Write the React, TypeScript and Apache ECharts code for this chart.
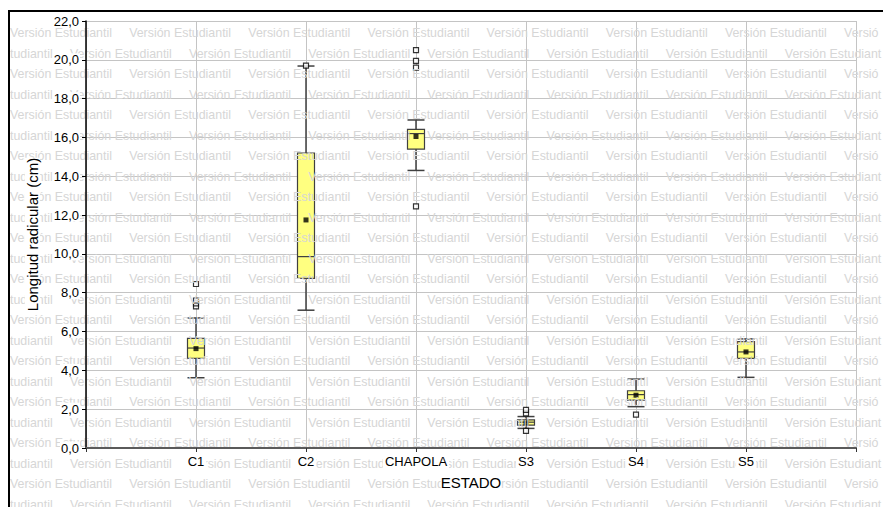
import React, { useEffect, useRef } from 'react';
import * as echarts from 'echarts';

// ---- data ----
const categories = ['C1', 'C2', 'CHAPOLA', 'S3', 'S4', 'S5'];
const mins = [3.62, 7.1, 14.3, 1.01, 2.13, 3.64];
const q1s = [4.62, 8.74, 15.4, 1.18, 2.47, 4.62];
const medians = [5.15, 9.86, 16.2, 1.33, 2.75, 4.95];
const q3s = [5.65, 15.2, 16.42, 1.45, 2.95, 5.48];
const maxs = [6.7, 19.68, 16.9, 1.62, 3.55, 5.62];
const means = [5.12, 11.75, 16.05, 1.3, 2.72, 4.95];
const outliers = [
  [7.3, 7.45, 7.6, 8.45],
  [19.7],
  [12.45, 19.6, 19.95, 20.5],
  [0.88, 1.78, 1.96],
  [1.72],
  [],
];
const yMin = 0;
const yMax = 22;
const yStep = 2;
const xTitle = 'ESTADO';
const yTitle = 'Longitud radicular (cm)';
const watermark = 'Versión Estudiantil';

const FONT = '"Liberation Sans", Arial, sans-serif';
const WM_FONT = '12.4px ' + FONT;

function fitText(s: string, maxW: number): string {
  const c = document.createElement('canvas').getContext('2d');
  if (!c) return s;
  c.font = WM_FONT;
  let t = s;
  while (t.length > 0 && c.measureText(t).width > maxW) t = t.slice(0, -1);
  return t.replace(/[\u00a0\s]+$/, '');
}

export default function App() {
  const ref = useRef<HTMLDivElement>(null);

  useEffect(() => {
    const chart = echarts.init(ref.current!, null, { renderer: 'svg' });
    const axisCats = ['', ...categories, ''];
    const boxData = categories.map((_, i) => [i + 1, mins[i], q1s[i], medians[i], q3s[i], maxs[i]]);
    const meanData = categories.map((_, i) => [i + 1, means[i]]);
    const outlierData: number[][] = [];
    outliers.forEach((arr, i) => arr.forEach((v) => outlierData.push([i + 1, v])));

    const NB = '\u00a0';
    const unit = watermark + NB.repeat(5);
    const wmElements = Array.from({ length: 24 }, (_, i) => ({
      type: 'text',
      x: 10,
      y: 33 + 20.5 * i,
      silent: true,
      z: 5,
      style: {
        text: fitText(
          i % 2 === 0 ? unit.repeat(8) : 'tudiantil' + NB.repeat(5) + unit.repeat(8),
          883 - 10 - 1
        ),
        fill: '#d6d6d6',
        font: WM_FONT,
        verticalAlign: 'middle',
      },
    }));

    const labelAxisY = {
      type: 'value',
      min: yMin,
      max: yMax,
      interval: yStep,
      position: 'left',
      z: 10,
      axisLine: { show: true, lineStyle: { color: '#000', width: 1.5 } },
      axisTick: { show: true, length: 4, lineStyle: { color: '#000' } },
      axisLabel: {
        show: true,
        margin: 6,
        color: '#000',
        fontSize: 13,
        fontFamily: FONT,
        backgroundColor: '#fff',
        padding: [0, 1],
        formatter: (v: number) => v.toFixed(1).replace('.', ','),
      },
      splitLine: { show: false },
      name: yTitle,
      nameLocation: 'middle',
      nameGap: 46,
      nameTextStyle: { color: '#000', fontSize: 15, fontFamily: FONT, backgroundColor: '#fff' },
    };

    const option: any = {
      animation: false,
      backgroundColor: '#fff',
      grid: { left: 86, right: 27, top: 21, bottom: 59, containLabel: false },
      xAxis: [
        {
          type: 'category',
          data: axisCats,
          boundaryGap: false,
          z: 0,
          axisLine: { show: false },
          axisTick: { show: false },
          axisLabel: { show: false },
          splitLine: { show: true, lineStyle: { color: '#c4c4c4', width: 1 } },
        },
        {
          type: 'category',
          data: axisCats,
          boundaryGap: false,
          position: 'bottom',
          offset: 0,
          z: 10,
          axisLine: { show: true, lineStyle: { color: '#5a5a5a', width: 2 } },
          axisTick: { show: true, length: 4, lineStyle: { color: '#333' } },
          axisLabel: {
            show: true,
            interval: 0,
            margin: 6,
            color: '#000',
            fontSize: 13,
            fontFamily: FONT,
            backgroundColor: '#fff',
            padding: [1, 2],
          },
          splitLine: { show: false },
          name: xTitle,
          nameLocation: 'middle',
          nameGap: 27,
          nameTextStyle: { color: '#000', fontSize: 15, fontFamily: FONT, backgroundColor: '#fff' },
        },
      ],
      yAxis: [
        {
          type: 'value',
          min: yMin,
          max: yMax,
          interval: yStep,
          z: 0,
          axisLine: { show: false },
          axisTick: { show: false },
          axisLabel: { show: false },
          splitLine: { show: true, lineStyle: { color: '#c4c4c4', width: 1 } },
        },
        labelAxisY,
      ],
      graphic: {
        elements: [
          ...wmElements,
          {
            type: 'rect',
            z: 20,
            silent: true,
            shape: { x: 9, y: 11, width: 900, height: 600 },
            style: { fill: 'transparent', stroke: '#000', lineWidth: 2 },
          },
        ],
      },
      series: [
        {
          type: 'custom',
          xAxisIndex: 0,
          yAxisIndex: 0,
          z: 2,
          data: boxData,
          encode: { x: 0, y: [1, 2, 3, 4, 5] },
          renderItem: (params: any, api: any) => {
            const xi = api.value(0);
            const lo = api.coord([xi, api.value(1)]);
            const q1 = api.coord([xi, api.value(2)]);
            const md = api.coord([xi, api.value(3)]);
            const q3 = api.coord([xi, api.value(4)]);
            const hi = api.coord([xi, api.value(5)]);
            const cx = lo[0];
            const hw = 8.5;
            const ls = { stroke: '#404040', lineWidth: 1.5 };
            return {
              type: 'group',
              children: [
                { type: 'line', shape: { x1: cx, y1: hi[1], x2: cx, y2: q3[1] }, style: ls },
                { type: 'line', shape: { x1: cx, y1: q1[1], x2: cx, y2: lo[1] }, style: ls },
                { type: 'line', shape: { x1: cx - hw, y1: hi[1], x2: cx + hw, y2: hi[1] }, style: ls },
                { type: 'line', shape: { x1: cx - hw, y1: lo[1], x2: cx + hw, y2: lo[1] }, style: ls },
                {
                  type: 'rect',
                  shape: { x: cx - hw, y: q3[1], width: 2 * hw, height: q1[1] - q3[1] },
                  style: { fill: '#ffff80', stroke: '#404040', lineWidth: 1.2 },
                },
                {
                  type: 'line',
                  shape: { x1: cx - hw, y1: md[1], x2: cx + hw, y2: md[1] },
                  style: { stroke: '#404040', lineWidth: 1.2 },
                },
              ],
            };
          },
        },
        {
          type: 'scatter',
          xAxisIndex: 0,
          yAxisIndex: 0,
          z: 3,
          symbol: 'rect',
          symbolSize: 5,
          data: meanData,
          itemStyle: { color: '#000' },
        },
        {
          type: 'scatter',
          xAxisIndex: 0,
          yAxisIndex: 0,
          z: 3,
          symbol: 'rect',
          symbolSize: 5,
          data: outlierData,
          itemStyle: { color: '#fff', borderColor: '#000', borderWidth: 1.2 },
        },
      ],
    };
    chart.setOption(option);
    return () => chart.dispose();
  }, []);

  return <div ref={ref} style={{ position: 'absolute', left: 0, top: 0, width: 883, height: 507 }} />;
}
